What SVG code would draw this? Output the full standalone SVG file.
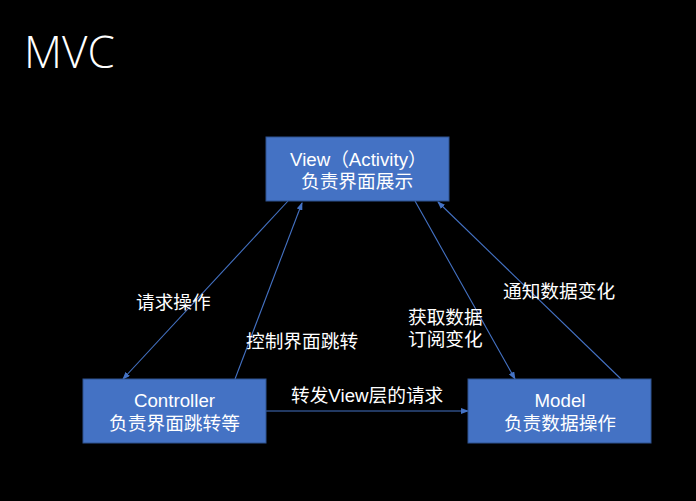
<svg xmlns="http://www.w3.org/2000/svg" width="696" height="501" viewBox="0 0 696 501">
<defs>
<marker id="ah" markerWidth="8" markerHeight="6" refX="7" refY="3" orient="auto" markerUnits="userSpaceOnUse">
<path d="M0,0 L8,3 L0,6 Z" fill="#4472C4"/>
</marker>
<style>
.box{fill:#4472C4;stroke:#2F528F;stroke-width:1}
.t{font-family:"Liberation Sans","Noto Sans CJK SC",sans-serif;font-size:18.7px;fill:#ffffff}
.c{text-anchor:middle}
.ln{stroke:#4472C4;stroke-width:1.1;fill:none;marker-end:url(#ah)}
</style>
</defs>
<rect width="696" height="501" fill="#000000"/>
<text x="24" y="68" style="font-family:'Open Sans','Liberation Sans',sans-serif;font-weight:300;font-size:44px;fill:#ffffff">MVC</text>
<g id="connectors">
<line class="ln" x1="288" y1="201" x2="123" y2="379"/>
<line class="ln" x1="235" y1="379" x2="302" y2="203"/>
<line class="ln" x1="415" y1="201" x2="515" y2="379"/>
<line class="ln" x1="621" y1="379" x2="438" y2="202"/>
<line class="ln" x1="266" y1="411" x2="468" y2="411"/>
<text class="t" x="136" y="309">请求操作</text>
<text class="t" x="246" y="348">控制界面跳转</text>
<text class="t" x="408" y="324">获取数据</text>
<text class="t" x="408" y="346">订阅变化</text>
<text class="t" x="503" y="298">通知数据变化</text>
<text class="t" x="291" y="402">转发View层的请求</text>
</g>
<g id="view">
<rect class="box" x="266" y="137" width="183" height="64"/>
<text class="t" x="290" y="166">View（Activity）</text>
<text class="t" x="301" y="188">负责界面展示</text>
</g>
<g id="controller">
<rect class="box" x="83" y="379" width="183" height="64"/>
<text class="t c" x="174.5" y="407">Controller</text>
<text class="t c" x="174.5" y="430">负责界面跳转等</text>
</g>
<g id="model">
<rect class="box" x="468" y="379" width="183" height="64"/>
<text class="t c" x="560" y="407">Model</text>
<text class="t c" x="560" y="430">负责数据操作</text>
</g>
</svg>
